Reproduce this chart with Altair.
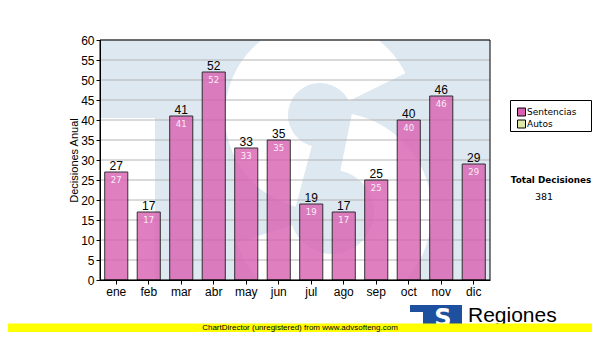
import altair as alt
import pandas as pd

# ---- data ----
meses = ["ene", "feb", "mar", "abr", "may", "jun", "jul", "ago", "sep", "oct", "nov", "dic"]
sentencias = [27, 17, 41, 52, 33, 35, 19, 17, 25, 40, 46, 29]
series = ["Sentencias", "Autos"]
colores = ["#d860b0", "#dde9a6"]
y_ticks = list(range(0, 61, 5))
total = sum(sentencias)

df = pd.DataFrame({"mes": meses, "valor": sentencias, "serie": series[0]})
ticks_df = pd.DataFrame({"t": y_ticks})
leg_df = pd.DataFrame({"serie": series, "fila": list(range(len(series)))})
one = pd.DataFrame({"a": [0]})

W, H = 390, 240
LBLUE = "#dee8f1"
FONT = "Liberation Sans"

xscale = alt.Scale(domain=meses, paddingInner=0.29, paddingOuter=0.145)
yscale = alt.Scale(domain=[0, 60], nice=False, zero=True)
cscale = alt.Scale(domain=series, range=colores)

X_AX = alt.Axis(title=None, labelAngle=0, ticks=True, tickSize=4,
                tickColor="black", bandPosition=0.5, zindex=1,
                domainColor="black", labelFont=FONT, labelFontSize=12,
                labelColor="black", labelPadding=2, grid=False)
Y_AX = alt.Axis(title="Decisiones Anual", values=y_ticks, grid=False,
                labelOverlap=False, ticks=True, zindex=1,
                tickSize=4, tickColor="black", domainColor="black",
                labelFont=FONT, labelFontSize=12, labelColor="black",
                labelPadding=2, titleFont=FONT, titleFontSize=11,
                titleFontWeight="normal", titleColor="black",
                titlePadding=1)


def X():
    return alt.X("mes:N", scale=xscale, sort=meses, axis=X_AX)


def Y(field="valor:Q"):
    return alt.Y(field, scale=yscale, axis=Y_AX)


# ---- watermark (decorative) ----
wm_bar = alt.Chart(one).mark_rect(color=LBLUE).encode(
    x=alt.value(0), x2=alt.value(W), y=alt.value(0), y2=alt.value(78))
wm_sq = alt.Chart(one).mark_rect(color=LBLUE).encode(
    x=alt.value(55), x2=alt.value(W), y=alt.value(0), y2=alt.value(H))
wm_up = alt.Chart(one).mark_arc(color="white", theta=3.4, theta2=7.4,
                                radius=95, radius2=32, clip=True).encode(
    x=alt.value(220), y=alt.value(75))
wm_lo = alt.Chart(one).mark_arc(color="white", theta=0.2, theta2=4.4,
                                radius=100, radius2=42, clip=True).encode(
    x=alt.value(232), y=alt.value(172))

# ---- grid ----
grid = alt.Chart(ticks_df).mark_rule(color="#b4b4b4", strokeWidth=1).encode(
    y=Y("t:Q"))

# ---- bars ----
bars = alt.Chart(df).mark_bar(stroke="black", strokeWidth=1, opacity=0.8).encode(
    x=X(), y=Y(),
    color=alt.Color("serie:N", scale=cscale, legend=None),
)

border = alt.Chart(one).mark_rect(fillOpacity=0, stroke="black", strokeWidth=1).encode(
    x=alt.value(0), x2=alt.value(W), y=alt.value(0), y2=alt.value(H))

top_lbl = alt.Chart(df).mark_text(font=FONT, fontSize=12, color="black",
                                  baseline="alphabetic", dy=-2).encode(
    x=X(), y=Y(), text="valor:Q")
in_lbl = alt.Chart(df).mark_text(font="DejaVu Sans", fontSize=8.5, color="#fbeef8",
                                 baseline="top", dy=4).encode(
    x=X(), y=Y(), text="valor:Q")

# ---- legend (drawn as marks) ----
leg_box = alt.Chart(one).mark_rect(fill="white", stroke="black", strokeWidth=1).encode(
    x=alt.value(410.5), x2=alt.value(491.5), y=alt.value(60.5), y2=alt.value(91.5))
leg_base = alt.Chart(leg_df).transform_calculate(
    ly="72 + 12 * datum.fila")
leg_sym = leg_base.mark_square(size=64, stroke="black", strokeWidth=1, opacity=1).encode(
    x=alt.value(421.5),
    y=alt.Y("ly:Q", scale=None),
    fill=alt.Color("serie:N", scale=cscale, legend=None),
)
leg_txt = leg_base.mark_text(font="DejaVu Sans", fontSize=9, color="black",
                             align="left", baseline="middle").encode(
    x=alt.value(427),
    y=alt.Y("ly:Q", scale=None),
    text="serie:N",
)

# ---- side annotations ----
tot_t = alt.Chart(one).mark_text(text="Total Decisiones", font="DejaVu Sans",
                                 fontWeight="bold", fontSize=8.8, color="black").encode(
    x=alt.value(451), y=alt.value(140))
tot_v = alt.Chart(one).mark_text(text=str(total), font="DejaVu Sans",
                                 fontSize=9.5, color="black").encode(
    x=alt.value(444), y=alt.value(157))

# ---- logo ----
LOGO = "#1e50a0"
logo_a = alt.Chart(one).mark_rect(color=LOGO).encode(
    x=alt.value(310), x2=alt.value(362), y=alt.value(265), y2=alt.value(272))
logo_b = alt.Chart(one).mark_rect(color=LOGO).encode(
    x=alt.value(323), x2=alt.value(362), y=alt.value(265), y2=alt.value(292))
logo_s = alt.Chart(one).mark_text(text="S", font="DejaVu Sans", fontWeight="bold",
                                  fontSize=24, color="white", baseline="middle").encode(
    x=alt.value(343), y=alt.value(279))
logo_t = alt.Chart(one).mark_text(text="Regiones", font=FONT, fontSize=21,
                                  color="black", align="left", baseline="alphabetic").encode(
    x=alt.value(368), y=alt.value(282))

# ---- footer band ----
band = alt.Chart(one).mark_rect(color="#ffff00").encode(
    x=alt.value(-92), x2=alt.value(492), y=alt.value(283.5), y2=alt.value(292))
band_t = alt.Chart(one).mark_text(text="ChartDirector (unregistered) from www.advsofteng.com",
                                  font=FONT, fontSize=8, color="black",
                                  baseline="middle").encode(
    x=alt.value(200), y=alt.value(287.6))

chart = alt.layer(
    wm_bar, wm_sq, wm_up, wm_lo, grid, bars, border, top_lbl, in_lbl,
    leg_box, leg_sym, leg_txt,
    tot_t, tot_v, logo_a, logo_b, logo_s, logo_t, band, band_t
).properties(
    width=W, height=H,
    autosize=alt.AutoSizeParams(type="none"),
    padding={"left": 92, "top": 32, "right": 102, "bottom": 52},
    background="white",
).configure_view(stroke=None)

chart.save("out.html", embed_options={"renderer": "svg", "actions": False})
